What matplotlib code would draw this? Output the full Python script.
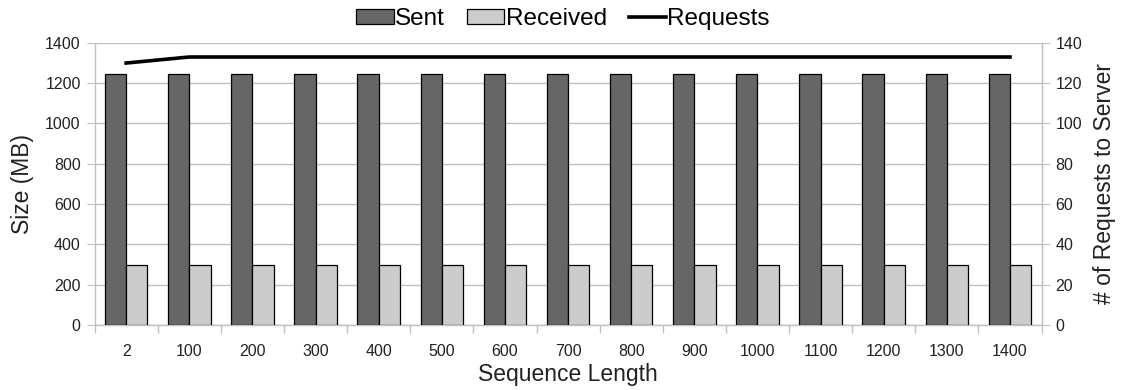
import numpy as np
import matplotlib.pyplot as plt
from matplotlib.ticker import FixedLocator

plt.rcParams['font.family'] = ['Liberation Sans', 'DejaVu Sans']

seqLengths = ['2', '100', '200', '300', '400', '500', '600', '700', '800',
              '900', '1000', '1100', '1200', '1300', '1400']
sentMB = [1245] * 15
receivedMB = [298] * 15
requests = [130] + [133] * 14


def main():
    fig, ax = plt.subplots(figsize=(11.26, 3.9), dpi=100)
    fig.subplots_adjust(left=0.084, right=0.925, top=0.89, bottom=0.167)

    x = np.arange(len(seqLengths))
    width = 0.337
    gridCol = '#c0c0c0'
    txtCol = '#222222'

    b1 = ax.bar(x - width / 2, sentMB, width, color='#666666',
                edgecolor='black', linewidth=0.9, label='Sent', zorder=3)
    b2 = ax.bar(x + width / 2, receivedMB, width, color='#cccccc',
                edgecolor='black', linewidth=0.9, label='Received', zorder=3)

    ax.set_xlim(-0.5, len(seqLengths) - 0.5)
    ax.set_ylim(0, 1400)
    ax.set_yticks(range(0, 1401, 200))
    ax.set_xticks(x)
    ax.set_xticklabels(seqLengths)
    ax.xaxis.set_minor_locator(FixedLocator(np.arange(-0.5, len(seqLengths), 1)))
    ax.tick_params(axis='x', which='major', length=0, pad=14, labelsize=11.5, colors=txtCol)
    ax.tick_params(axis='x', which='minor', length=6, color=gridCol, width=1)
    ax.tick_params(axis='y', length=6, color=gridCol, labelsize=11.5, colors=txtCol, pad=4)
    ax.grid(axis='y', color=gridCol, linewidth=1, zorder=0)
    ax.spines['top'].set_visible(False)
    for s in ['left', 'right', 'bottom']:
        ax.spines[s].set_color(gridCol)
        ax.spines[s].set_linewidth(1)
    ax.set_xlabel('Sequence Length', fontsize=16.5, labelpad=3, color=txtCol)
    ax.set_ylabel('Size (MB)', fontsize=16.5, labelpad=8, color=txtCol)

    ax2 = ax.twinx()
    l1, = ax2.plot(x, requests, color='black', linewidth=2.6, label='Requests', zorder=4)
    ax2.set_ylim(0, 140)
    ax2.set_yticks(range(0, 141, 20))
    ax2.tick_params(axis='y', length=6, color=gridCol, labelsize=11.5, colors=txtCol, pad=4)
    for s in ['top', 'left', 'bottom']:
        ax2.spines[s].set_visible(False)
    ax2.spines['right'].set_color(gridCol)
    ax2.set_ylabel('# of Requests to Server', fontsize=16.5, labelpad=8, color=txtCol)

    fig.legend([b1, b2, l1], ['Sent', 'Received', 'Requests'], loc='upper center',
               bbox_to_anchor=(0.5, 1.035), ncol=3, frameon=False, fontsize=17.5,
               handlelength=1.55, handleheight=0.55, handletextpad=0.05, columnspacing=0.9)

    fig.savefig('out.png', dpi=100)


main()
